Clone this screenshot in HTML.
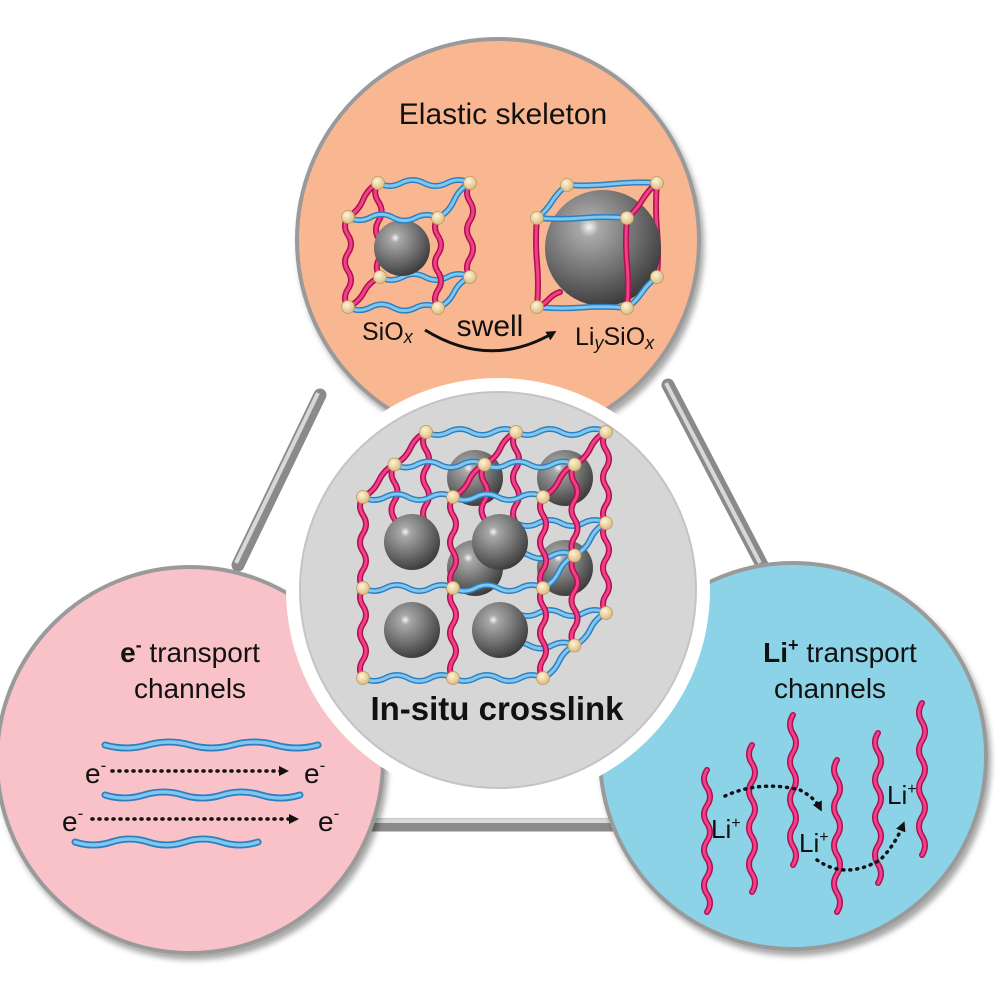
<!DOCTYPE html>
<html><head><meta charset="utf-8"><style>
html,body{margin:0;padding:0;background:#fff;}
svg{display:block;}
text{font-family:"Liberation Sans",sans-serif;fill:#111;}
</style></head><body>
<svg id="s" width="996" height="996" viewBox="0 0 996 996" xmlns="http://www.w3.org/2000/svg">
<defs>
<radialGradient id="sph" cx="0.38" cy="0.32" r="0.7">
<stop offset="0" stop-color="#f4f4f4"/><stop offset="0.12" stop-color="#a8a8a8"/><stop offset="0.6" stop-color="#6e6e6e"/><stop offset="1" stop-color="#3c3c3c"/></radialGradient>
<radialGradient id="nd" cx="0.4" cy="0.35" r="0.7"><stop offset="0" stop-color="#fff4d8"/><stop offset="1" stop-color="#d9b77a"/></radialGradient>
<marker id="ah" markerWidth="10" markerHeight="10" refX="6" refY="5" orient="auto" markerUnits="userSpaceOnUse" viewBox="0 0 10 10"><path d="M0,0 L10,5 L0,10z" fill="#111"/></marker>
<filter id="sh" x="-10%" y="-10%" width="130%" height="130%"><feDropShadow dx="3" dy="5" stdDeviation="3" flood-color="#000" flood-opacity="0.35"/></filter>
</defs>
<g stroke="#8a8a8a" stroke-width="13" stroke-linecap="round">
<line x1="320" y1="395" x2="238" y2="565"/>
<line x1="668" y1="385" x2="762" y2="565"/>
<line x1="370" y1="825" x2="630" y2="825"/>
</g>
<g stroke="#d8d8d8" stroke-width="4">
<line x1="318" y1="393" x2="236" y2="563"/>
<line x1="666" y1="383" x2="760" y2="563"/>
<line x1="370" y1="821" x2="630" y2="821"/>
</g>
<circle cx="498" cy="240" r="201" fill="#f9b791" stroke="#9a9a9a" stroke-width="4" filter="url(#sh)"/>
<circle cx="190" cy="760" r="193" fill="#f9c1c8" stroke="#9a9a9a" stroke-width="4" filter="url(#sh)"/>
<circle cx="793" cy="756" r="193" fill="#8dd3e8" stroke="#9a9a9a" stroke-width="4" filter="url(#sh)"/>
<circle cx="498" cy="590" r="212" fill="#fff"/>
<circle cx="498" cy="590" r="198" fill="#d6d6d6" stroke="#c4c4c4" stroke-width="2"/>
<g id="net"></g>
<text x="503" y="124" font-size="30" text-anchor="middle">Elastic skeleton</text>
<text x="362" y="340" font-size="25">SiO<tspan font-style="italic" font-size="18" dy="3">x</tspan></text>
<text x="490" y="336" font-size="30" text-anchor="middle">swell</text>
<path d="M425,330 Q490,370 553,333" fill="none" stroke="#111" stroke-width="3" marker-end="url(#ah)"/>
<text x="575" y="345" font-size="25">Li<tspan font-style="italic" font-size="18" dy="4">y</tspan><tspan dy="-4">SiO</tspan><tspan font-style="italic" font-size="18" dy="4">x</tspan></text>
<text x="497" y="720" font-size="33" font-weight="bold" text-anchor="middle">In-situ crosslink</text>
<text x="190" y="662" font-size="28" text-anchor="middle"><tspan font-weight="bold">e</tspan><tspan font-weight="bold" font-size="18" dy="-11">-</tspan><tspan dy="11"> transport</tspan></text>
<text x="190" y="698" font-size="28" text-anchor="middle">channels</text>
<text x="840" y="662" font-size="28" text-anchor="middle"><tspan font-weight="bold">Li</tspan><tspan font-weight="bold" font-size="18" dy="-11">+</tspan><tspan dy="11"> transport</tspan></text>
<text x="830" y="698" font-size="28" text-anchor="middle">channels</text>
<g font-size="28">
<text x="85" y="783">e<tspan font-size="17" dy="-12">-</tspan></text>
<text x="304" y="783">e<tspan font-size="17" dy="-12">-</tspan></text>
<text x="62" y="831">e<tspan font-size="17" dy="-12">-</tspan></text>
<text x="318" y="831">e<tspan font-size="17" dy="-12">-</tspan></text>
</g>
<g stroke="#111" stroke-width="3.5" stroke-dasharray="1 6" stroke-linecap="round" fill="none">
<line x1="112" y1="771" x2="285" y2="771" marker-end="url(#ah)"/>
<line x1="92" y1="819" x2="295" y2="819" marker-end="url(#ah)"/>
<path d="M725,796 Q760,780 800,790 Q815,798 820,808" marker-end="url(#ah)"/>
<path d="M817,860 Q845,880 880,860 Q895,845 903,825" marker-end="url(#ah)"/>
</g>
<g font-size="26">
<text x="711" y="838">Li<tspan font-size="16" dy="-10">+</tspan></text>
<text x="799" y="852">Li<tspan font-size="16" dy="-10">+</tspan></text>
<text x="887" y="804">Li<tspan font-size="16" dy="-10">+</tspan></text>
</g>
</svg>
<script>
(function(){
var NS="http://www.w3.org/2000/svg",g=document.getElementById("net");
function el(t,a){var e=document.createElementNS(NS,t);for(var k in a)e.setAttribute(k,a[k]);g.appendChild(e);return e;}
function wave(x1,y1,x2,y2,amp,n){var dx=x2-x1,dy=y2-y1,L=Math.hypot(dx,dy),nx=-dy/L,ny=dx/L,d="M"+x1+","+y1;
for(var i=0;i<n;i++){var t0=i/n,t1=(i+1)/n,tm=(t0+t1)/2,s=(i%2?-1:1)*amp*2;
d+=" Q"+(x1+dx*tm+nx*s).toFixed(1)+","+(y1+dy*tm+ny*s).toFixed(1)+" "+(x1+dx*t1).toFixed(1)+","+(y1+dy*t1).toFixed(1);}return d;}
function line(a,b,col,amp,n,w){w=w||6;var d=wave(a[0],a[1],b[0],b[1],amp,n);
el("path",{d:d,fill:"none",stroke:col=="b"?"#2f7fc0":"#b0104f","stroke-width":w,"stroke-linecap":"round"});
el("path",{d:d,fill:"none",stroke:col=="b"?"#7ec8f0":"#f0408a","stroke-width":w*0.5,"stroke-linecap":"round"});}
function node(p,r){el("circle",{cx:p[0],cy:p[1],r:r||6.5,fill:"url(#nd)",stroke:"#b89a60","stroke-width":0.8});}
function sph(x,y,r){el("circle",{cx:x,cy:y,r:r,fill:"url(#sph)"});}
var X=[363,453,543],Y=[497,588,678],ox=31.5,oy=-32.5;
function P(i,j,k){return [X[i]+ox*k,Y[j]+oy*k];}
sph(475,478,28);sph(565,478,28);sph(565,568,28);sph(475,568,28);
for(var k=2;k>=0;k--){
 for(var j=0;j<3;j++)for(var i=0;i<2;i++){ if(k==0||j==0||i==1) line(P(i,j,k),P(i+1,j,k),"b",3,4);}
 for(var i=0;i<3;i++)for(var j=0;j<2;j++){ if(k==0||i==2||j==0) line(P(i,j,k),P(i,j+1,k),"r",3,5);}
 if(k==1){sph(412,542,28);sph(500,542,28);}
}
for(var i=0;i<3;i++)for(var j=0;j<3;j++)for(var k=0;k<2;k++){
 if(j==0||i==2) line(P(i,j,k),P(i,j,k+1),j==0?"r":"b",2,2);
}
sph(412,630,28);sph(500,630,28);
for(var k=2;k>=0;k--)for(var i=0;i<3;i++)for(var j=0;j<3;j++){if(k==0||j==0||i==2)node(P(i,j,k));}
// small cube
var A=[[348,217],[438,218],[348,307],[438,308]],B=[[378,183],[470,183],[380,277],[470,277]];
line(B[0],B[1],"b",3,4);line(B[2],B[3],"b",3,4);line(B[1],B[3],"r",3,5);line(B[0],B[2],"r",3,5);
sph(402,248,28);
line(A[0],A[1],"b",3,4);line(A[2],A[3],"b",3,4);line(A[0],A[2],"r",3,5);line(A[1],A[3],"r",3,5);
for(var i=0;i<4;i++)line(A[i],B[i],i%2?"b":"r",2,2);
A.concat(B).forEach(function(p){node(p);});
// big cube
var C=[[537,218],[627,218],[537,307],[627,308]],D=[[567,185],[657,183],[567,275],[657,277]];
line(D[0],D[1],"b",1,2);line(D[1],D[3],"r",1,2);line(D[2],D[3],"b",1,2);
sph(603,248,58);
line(C[0],C[1],"b",1,2);line(C[2],C[3],"b",1,2);line(C[0],C[2],"r",1,2);line(C[1],C[3],"r",1,2);
line(C[0],D[0],"b",1,2);line(C[1],D[1],"r",1,2);line(C[3],D[3],"b",1,2);line(C[2],[560,292],"r",1,2);
C.concat([D[0],D[1],D[3]]).forEach(function(p){node(p);});
line([105,745],[318,745],"b",3,5,7);line([105,795],[300,795],"b",3,5,7);line([75,842],[258,842],"b",3,5,7);
[[707,770,912],[752,745,892],[793,715,865],[837,760,912],[878,733,883],[922,703,855]].forEach(function(c){line([c[0],c[1]],[c[0],c[2]],"r",3,8,6);});
})();
</script>
</body></html>
